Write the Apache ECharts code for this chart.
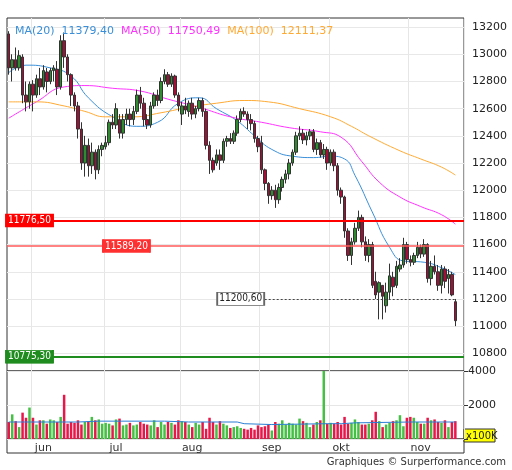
<!DOCTYPE html>
<html><head><meta charset="utf-8">
<script src="https://cdn.jsdelivr.net/npm/echarts@6/dist/echarts.min.js"></script>
<style>html,body{margin:0;padding:0;background:#fff}#c{width:512px;height:470px}</style>
</head><body><div id="c"></div>
<script>
const dates = ['05-23','05-24','05-25','05-28','05-29','05-30','05-31',
'06-01','06-04','06-05','06-06','06-07','06-08','06-11','06-12','06-13','06-14','06-15','06-18','06-19','06-20','06-21','06-22','06-25','06-26','06-27','06-28','06-29',
'07-02','07-03','07-04','07-05','07-06','07-09','07-10','07-11','07-12','07-13','07-16','07-17','07-18','07-19','07-20','07-23','07-24','07-25','07-26','07-27','07-30','07-31',
'08-01','08-02','08-03','08-06','08-07','08-08','08-09','08-10','08-13','08-14','08-15','08-16','08-17','08-20','08-21','08-22','08-23','08-24','08-27','08-28','08-29','08-30','08-31',
'09-03','09-04','09-05','09-06','09-07','09-10','09-11','09-12','09-13','09-14','09-17','09-18','09-19','09-20','09-21','09-24','09-25','09-26','09-27','09-28',
'10-01','10-02','10-03','10-04','10-05','10-08','10-09','10-10','10-11','10-12','10-15','10-16','10-17','10-18','10-19','10-22','10-23','10-24','10-25','10-26','10-29','10-30','10-31',
'11-01','11-02','11-05','11-06','11-07','11-08','11-09','11-12','11-13','11-14','11-15','11-16','11-19','11-20'];
// [open, close, low, high]
const ohlc = [
[13150,12900,12850,13170],[12900,12960,12800,13000],[12960,12900,12880,13050],[12900,12990,12880,13030],[12980,12700,12640,13000],[12700,12650,12580,12800],[12650,12780,12600,12800],
[12780,12700,12580,12810],[12700,12820,12680,12850],[12820,12760,12700,12900],[12760,12880,12740,12920],[12870,12800,12720,12900],[12800,12880,12780,12900],[12880,12900,12800,12920],[12890,12760,12700,12950],[12760,13100,12740,13140],[13100,12980,12900,13160],[12980,12850,12800,13000],[12850,12700,12620,12860],[12700,12620,12580,12720],[12620,12450,12380,12650],[12450,12200,12150,12500],[12200,12330,12100,12400],[12330,12180,12100,12380],[12180,12280,12120,12350],[12280,12150,12080,12300],[12150,12300,12120,12330],[12300,12330,12250,12350],
[12320,12350,12300,12400],[12350,12500,12330,12520],[12500,12480,12450,12560],[12480,12600,12450,12640],[12520,12420,12380,12560],[12420,12520,12380,12560],[12520,12560,12480,12600],[12560,12520,12470,12600],[12520,12580,12480,12620],[12580,12700,12560,12740],[12700,12640,12600,12760],[12640,12520,12470,12680],[12520,12480,12450,12560],[12480,12620,12460,12650],[12620,12700,12600,12720],[12700,12660,12620,12740],[12660,12800,12640,12830],[12800,12850,12780,12890],[12850,12780,12760,12870],[12780,12840,12760,12860],[12840,12700,12680,12850],[12700,12620,12580,12720],
[12560,12620,12480,12650],[12620,12590,12560,12680],[12580,12640,12540,12660],[12640,12560,12520,12680],[12560,12600,12530,12620],[12600,12660,12580,12680],[12660,12580,12540,12680],[12580,12330,12300,12600],[12330,12220,12120,12360],[12220,12150,12130,12240],[12200,12260,12180,12300],[12260,12220,12150,12300],[12220,12360,12200,12380],[12360,12380,12320,12400],[12380,12360,12340,12420],[12360,12420,12340,12440],[12420,12520,12400,12550],[12520,12580,12500,12600],[12580,12560,12540,12610],[12560,12520,12450,12580],[12520,12490,12440,12560],[12490,12380,12350,12510],[12380,12320,12280,12400],
[12350,12150,12120,12400],[12150,12050,12000,12160],[12050,11960,11900,12060],[11960,12000,11930,12030],[12000,11930,11870,12040],[11930,12020,11900,12050],[12020,12080,11990,12100],[12080,12120,12050,12150],[12120,12200,12080,12230],[12200,12280,12180,12300],[12280,12400,12260,12430],[12400,12420,12370,12470],[12420,12370,12340,12450],[12370,12400,12330,12430],[12400,12430,12370,12450],[12430,12300,12280,12450],[12300,12350,12260,12380],[12350,12260,12240,12370],[12260,12300,12230,12340],[12300,12200,12150,12320],
[12200,12280,12180,12300],[12280,12180,12140,12300],[12180,12000,11960,12200],[12000,11950,11900,12020],[11950,11700,11650,11960],[11700,11520,11480,11720],[11520,11620,11450,11650],[11620,11720,11600,11760],[11720,11800,11700,11850],[11800,11620,11580,11820],[11620,11520,11480,11660],[11520,11600,11470,11640],[11600,11300,11280,11620],[11330,11230,11200,11400],[11250,11320,11050,11330],[11300,11220,11050,11300],[11150,11250,11100,11320],[11250,11370,11200,11460],[11360,11290,11220,11400],[11300,11440,11280,11480],[11420,11450,11400,11500],[11450,11600,11430,11650],[11600,11490,11460,11620],
[11490,11470,11440,11520],[11470,11520,11450,11540],[11520,11580,11500,11620],[11580,11530,11500,11600],[11530,11600,11510,11640],[11600,11350,11320,11610],[11350,11440,11300,11480],[11440,11400,11380,11520],[11400,11300,11260,11450],[11300,11420,11240,11450],[11420,11330,11280,11440],[11350,11380,11240,11420],[11380,11230,11220,11400],[11180,11040,11000,11200]];
const volumes = [1000,1450,1050,700,1550,1250,1850,1250,850,1100,1100,900,1150,1100,1000,1300,2600,900,1000,950,1100,850,1000,1050,1300,1100,1150,900,
950,900,800,1150,1200,800,850,950,800,850,1000,900,850,800,1100,700,1000,850,1000,950,850,1100,1050,1000,850,700,950,850,1000,600,1250,1000,850,1050,900,800,650,700,750,650,600,550,650,550,800,700,750,850,500,
1000,900,1100,850,950,900,850,1200,1050,950,700,850,1000,1100,4200,900,950,900,1000,850,1300,900,950,1150,1000,850,850,900,1100,1600,1050,700,850,950,1050,1100,1400,750,1250,1300,1250,1000,900,900,1250,1100,1150,1000,950,1100,700,1000,1050,950,1050,1100,1050,1100,1150,1250,850,2500].slice(0,130);
const ma20 = {0:12865,5:12920,12:12900,18:12840,23:12680,30:12540,37:12470,43:12500,49:12640,55:12680,60:12600,66:12510,71:12400,76:12300,82:12250,88:12240,93:12250,97:12230,100:12110,105:11840,110:11580,114:11480,120:11470,125:11430,129:11379.4};
const ma50 = {0:12530,8:12650,16:12760,22:12770,30:12750,38:12730,46:12670,55:12610,64:12540,73:12500,81:12460,90:12430,96:12390,102:12210,107:12060,113:11950,119:11880,125:11820,129:11750.49};
const ma100 = {0:12650,8:12650,16:12620,22:12580,28:12540,36:12540,44:12570,52:12610,60:12640,68:12660,75:12650,84:12600,93:12540,99:12470,104:12400,113:12290,119:12230,125:12170,129:12111.37};
const volMA = {0:1000,20:1000,26:1050,45:1050,52:1000,66:1000,68:900,76:850,92:900,96:900,100:950,116:1000,129:1000};
const priceTicks = [10800,11000,11200,11400,11600,11800,12000,12200,12400,12600,12800,13000,13200];
const levels = [{v:11776.5,t:'11776,50'},{v:11589.2,t:'11589,20'},{v:10775.3,t:'10775,30'},{v:11200.6,t:'11200,60'}];
const monthStarts = [7,28,50,73,93,116];
const monthLabels = {10:'jun',31:'jul',53:'aug',76:'sep',96:'okt',119:'nov'};

const sparse = o => dates.map((d,i)=> o[i]!==undefined ? o[i] : null);
const N = dates.length;
const chart = echarts.init(document.getElementById('c'));
const axisX = (g, labels) => ({type:'category', gridIndex:g, data:dates, max:N+1, boundaryGap:true,
  axisLine:{show:false}, axisTick:{show:false},
  axisLabel:{show:labels, interval:(i)=>monthLabels[i]!==undefined, formatter:(v,i)=>monthLabels[i]||'', color:'#333', fontSize:11, margin:4, fontFamily:'DejaVu Sans'},
  splitLine:{show:true, interval:(i)=>monthStarts.includes(i), lineStyle:{color:'#e6e6e6'}}});
const maLine = (name, obj, color) => ({name, type:'line', data:sparse(obj), smooth:true, connectNulls:true, symbol:'none', lineStyle:{color, width:1}, silent:true, z:3});
const lvl = [
 {yAxis:levels[0].v, lineStyle:{color:'#ff0000', width:2, type:'solid'}},
 {yAxis:levels[1].v, lineStyle:{color:'#ff5a5a', width:1.5, type:'solid'}},
 {yAxis:levels[2].v, lineStyle:{color:'#1e8c1e', width:2, type:'solid'}},
 [{xAxis:67, yAxis:levels[3].v, lineStyle:{color:'#444', width:1, type:[2,2]}},{xAxis:N-1, yAxis:levels[3].v}]
];
const box = (idx, l, bg, fg, border) => ({coord:[idx,l.v], value:l.t, symbol:'rect', symbolSize:[47,13],
  itemStyle:{color:bg, borderColor:border, borderWidth:1}, label:{show:true, color:fg, formatter:l.t, fontSize:10, fontFamily:'DejaVu Sans Condensed, DejaVu Sans'}});

chart.setOption({
  animation:false,
  title:{left:10, top:21, text:'{b|MA(20)}  {b|11379,40}  {m|MA(50)}  {m|11750,49}  {o|MA(100)}  {o|12111,37}',
    textStyle:{fontSize:11, fontWeight:'normal', fontFamily:'DejaVu Sans', rich:{b:{color:'#3a8fd8',fontSize:11},m:{color:'#ff33ff',fontSize:11},o:{color:'#ffaa33',fontSize:11}}}},
  grid:[{left:7, right:48, top:18, height:353, show:true, borderColor:'#333', borderWidth:1, backgroundColor:'transparent'},
        {left:7, right:48, top:371, height:68, show:true, borderColor:'#333', borderWidth:1}],
  xAxis:[axisX(0,false), axisX(1,true)],
  yAxis:[{type:'value', gridIndex:0, position:'right', min:10670, max:13267, scale:true, axisLabel:{show:false}, splitLine:{show:false}, axisLine:{show:false}, axisTick:{show:false}},
         {type:'value', gridIndex:1, position:'right', min:0, max:4000, interval:2000, axisLine:{show:false},
          axisTick:{show:true, length:4, lineStyle:{color:'#333'}},
          axisLabel:{formatter:v=>v===0?'':String(v), color:'#222', fontSize:11, margin:4, fontFamily:'DejaVu Sans'}, splitLine:{lineStyle:{color:'#e6e6e6'}}}],
  series:[
    {type:'candlestick', data:ohlc, barWidth:3, z:4,
     itemStyle:{color:'#2e8b2e', color0:'#a50e36', borderColor:'#333', borderColor0:'#333', borderWidth:1},
     markPoint:{silent:true, z:10, data:[
       box(6, levels[0], '#ff0000', '#fff', '#ff0000'),
       box(34, levels[1], '#ff3030', '#fff', '#ff3030'),
       box(6, levels[2], '#1e8c1e', '#fff', '#1e8c1e'),
       box(67, levels[3], '#fff', '#222', '#666')]}},
    Object.assign(maLine('MA20', ma20, '#3a8fd8'), {markLine:{silent:true, symbol:'none', z:1, data:priceTicks.map(v=>({yAxis:v})),
       lineStyle:{color:'#e8e8e8', width:1, type:'solid'}, label:{position:'end', distance:8, formatter:p=>String(p.value), color:'#222', fontSize:11, fontFamily:'DejaVu Sans'}}}),
    Object.assign(maLine('MA50', ma50, '#ff33ff'), {markLine:{silent:true, symbol:'none', z:5, data:lvl, label:{show:false}}}),
    maLine('MA100', ma100, '#ffaa33'),
    {type:'bar', xAxisIndex:1, yAxisIndex:1, barWidth:2.5, clip:true,
     data:volumes.map((v,i)=>({value:v, itemStyle:{color: ohlc[i][1]>=ohlc[i][0] ? '#44c044' : '#e8174a'}}))},
    {type:'line', xAxisIndex:1, yAxisIndex:1, data:sparse(volMA), connectNulls:true, symbol:'none', lineStyle:{color:'#2a7fd4', width:1}}
  ],
  graphic:[
    {type:'rect', shape:{x:7,y:439,width:457,height:14}, style:{fill:'none', stroke:'#333', lineWidth:1}, z:-1},
    {type:'rect', shape:{x:464,y:429,width:31,height:13}, style:{fill:'#ffff00', stroke:'#333', lineWidth:1}},
    {type:'text', x:466, y:431, style:{text:'x100K', fontSize:10, fill:'#222', fontFamily:'DejaVu Sans'}},
    {type:'text', x:506, y:457, style:{text:'Graphiques © Surperformance.com', fontSize:10, fill:'#333', align:'right', fontFamily:'DejaVu Sans'}}
  ]
});
</script></body></html>
